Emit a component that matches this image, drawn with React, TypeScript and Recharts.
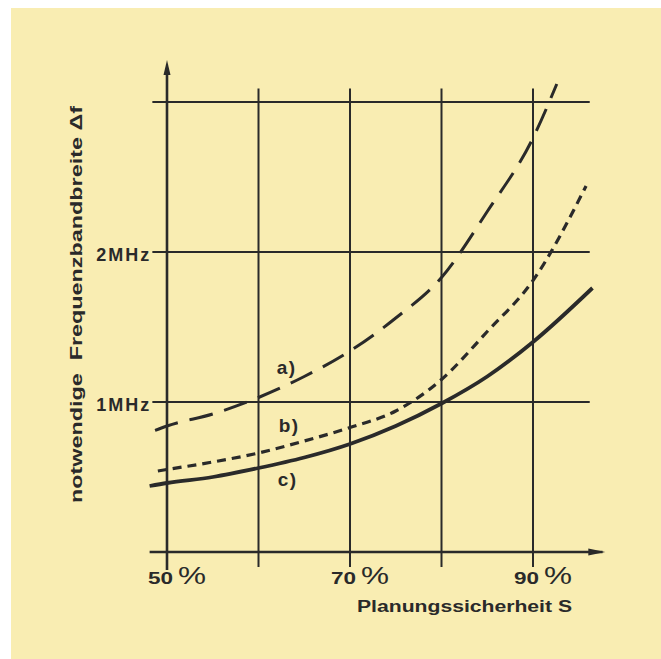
import React from 'react';
import { LineChart, Line, XAxis, YAxis, ReferenceLine, ReferenceDot, Customized } from 'recharts';

// ---- data (S in %, Δf in MHz) ----
const seriesA_S = [48.7, 50, 55, 60, 65, 70, 75, 80, 85, 90, 92.6];
const seriesA_F = [0.81, 0.84, 0.92, 1.03, 1.17, 1.34, 1.56, 1.83, 2.27, 2.76, 3.12];

const seriesB_S = [49.0, 50, 55, 60, 65, 70, 75, 80, 85, 90, 95.8];
const seriesB_F = [0.54, 0.55, 0.60, 0.66, 0.74, 0.83, 0.94, 1.15, 1.47, 1.81, 2.44];

const seriesC_S = [48.1, 50, 55, 60, 65, 70, 75, 80, 85, 90, 96.5];
const seriesC_F = [0.44, 0.46, 0.50, 0.56, 0.63, 0.72, 0.84, 0.99, 1.17, 1.40, 1.76];

const curveNames = ['a)', 'b)', 'c)'];

const xGrid = [50, 60, 70, 80, 90];
const yGrid = [1, 2, 3];
const xTicks = [50, 70, 90];
const xTickLabels = ['50', '70', '90'];
const yTicks = [1, 2];
const yTickLabels = ['1MHz', '2MHz'];

const xTitle = 'Planungssicherheit S';
const yTitle = 'notwendige  Frequenzbandbreite Δf';

// ---- layout constants ----
const X_DOMAIN = [48, 98];
const Y_DOMAIN = [-0.2, 3.4];
const AXIS_X_START = 48.1;
const AXIS_X_END = 97.6;
const AXIS_Y_BOTTOM = -0.12;
const AXIS_Y_TOP = 3.2;
const ARROW_Y_TIP = 3.28;
const ARROW_X_TIP = 97.9;
const GRID_TOP = 3.09;
const GRID_BOTTOM = -0.1;
const HGRID_LEFT = 48.4;
const HGRID_RIGHT = 96.2;
const LABEL_POS_X = [62.0, 62.2, 62.1];
const LABEL_POS_Y = [1.19, 0.8, 0.44];

const INK = '#2a2a2a';
const BG = '#f9edb2';
const FONT = '"Liberation Sans", Arial, Helvetica, sans-serif';

const toPoints = (s: number[], f: number[]) => s.map((v, i) => ({ x: v, y: f[i] }));
const dataA = toPoints(seriesA_S, seriesA_F);
const dataB = toPoints(seriesB_S, seriesB_F);
const dataC = toPoints(seriesC_S, seriesC_F);

const Titles = () => (
  <g>
    <text x={346} y={604} fontFamily={FONT} fontWeight="bold" fontSize={16} fill={INK}
      textLength={215} lengthAdjust="spacingAndGlyphs">{xTitle}</text>
    <text x={71} y={296.5} transform="rotate(-90, 71, 296.5)" textAnchor="middle" fontFamily={FONT}
      fontWeight="bold" fontSize={17} fill={INK} style={{ whiteSpace: 'pre' }}
      textLength={397} lengthAdjust="spacingAndGlyphs">{yTitle}</text>
  </g>
);

export default function App() {
  return (
    <div style={{ position: 'absolute', left: 11, top: 8, width: 650, height: 651, background: BG }}>
      <LineChart width={650} height={651} margin={{ top: 34, right: 54.8, bottom: 77, left: 137.7 }}>
        <XAxis type="number" dataKey="x" domain={X_DOMAIN} allowDataOverflow hide />
        <YAxis type="number" domain={Y_DOMAIN} allowDataOverflow hide />

        {xGrid.filter((v) => v !== 50).map((v) => (
          <ReferenceLine key={'vx' + v} segment={[{ x: v, y: GRID_BOTTOM }, { x: v, y: GRID_TOP }]}
            stroke={INK} strokeWidth={2} />
        ))}
        {yGrid.map((v) => (
          <ReferenceLine key={'hy' + v} segment={[{ x: HGRID_LEFT, y: v }, { x: HGRID_RIGHT, y: v }]}
            stroke={INK} strokeWidth={2} />
        ))}
        <ReferenceLine segment={[{ x: 50, y: AXIS_Y_BOTTOM }, { x: 50, y: AXIS_Y_TOP }]} stroke={INK} strokeWidth={2.6} />
        <ReferenceLine segment={[{ x: AXIS_X_START, y: 0 }, { x: AXIS_X_END, y: 0 }]} stroke={INK} strokeWidth={2.6} />
        <ReferenceDot x={50} y={ARROW_Y_TIP} shape={(p: any) => (
          <path d={`M${p.cx},${p.cy} L${p.cx - 3.5},${p.cy + 15} L${p.cx + 3.5},${p.cy + 15} Z`} fill={INK} />
        )} />
        <ReferenceDot x={ARROW_X_TIP} y={0} shape={(p: any) => (
          <path d={`M${p.cx},${p.cy} L${p.cx - 17},${p.cy - 3.5} L${p.cx - 17},${p.cy + 3.5} Z`} fill={INK} />
        )} />

        {xTicks.map((v, i) => (
          <ReferenceDot key={'xt' + v} x={v} y={0} shape={(p: any) => (
            <g>
              <text x={p.cx - 19} y={p.cy + 32} fontFamily={FONT} fontWeight="bold" fontSize={16.5} fill={INK}
                textLength={25} lengthAdjust="spacingAndGlyphs">{xTickLabels[i]}</text>
              <text x={p.cx + 11} y={p.cy + 32} fontFamily={FONT} fontSize={23} fill={INK}
                textLength={28} lengthAdjust="spacingAndGlyphs">%</text>
            </g>
          )} />
        ))}
        {yTicks.map((v, i) => (
          <ReferenceDot key={'yt' + v} x={HGRID_LEFT} y={v} shape={(p: any) => (
            <text x={p.cx - 1} y={p.cy + 9} textAnchor="end" fontFamily={FONT} fontWeight="bold" fontSize={18}
              letterSpacing={2} fill={INK}>{yTickLabels[i]}</text>
          )} />
        ))}

        <Line data={dataA} dataKey="y" type="monotone" dot={false} stroke={INK} strokeWidth={3}
          strokeDasharray="24 12" isAnimationActive={false} />
        <Line data={dataB} dataKey="y" type="monotone" dot={false} stroke={INK} strokeWidth={3.2}
          strokeDasharray="9 6" isAnimationActive={false} />
        <Line data={dataC} dataKey="y" type="monotone" dot={false} stroke={INK} strokeWidth={3.8}
          isAnimationActive={false} />

        {curveNames.map((n, i) => (
          <ReferenceDot key={n} x={LABEL_POS_X[i]} y={LABEL_POS_Y[i]} shape={(p: any) => (
            <text x={p.cx} y={p.cy} fontFamily={FONT} fontWeight="bold" fontSize={19} fill={INK}
              letterSpacing={1.5}>{n}</text>
          )} />
        ))}

        <Customized component={<Titles />} />
      </LineChart>
    </div>
  );
}
